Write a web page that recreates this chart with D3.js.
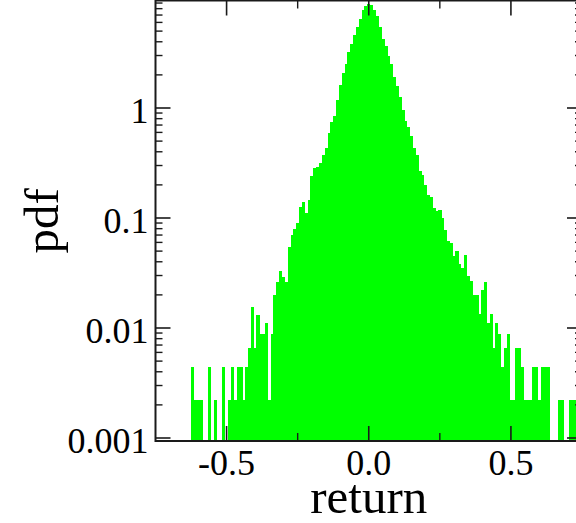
<!DOCTYPE html>
<html>
<head>
<meta charset="utf-8">
<script src="https://cdn.jsdelivr.net/npm/d3@7"></script>
<style>
  body { margin: 0; background: #fff; }
  svg { display: block; }
  text { font-family: "Liberation Serif", "Times New Roman", serif; fill: #000; }
</style>
</head>
<body>
<div id="chart"></div>
<script>
// histogram of returns, log-scaled pdf
// bin centres (width 0.01)
var binWidth = 0.01;
var binCenters = [
  -0.62, -0.61, -0.60, -0.59, -0.58, -0.57, -0.56, -0.55, -0.54, -0.53,
  -0.52, -0.51, -0.50, -0.49, -0.48, -0.47, -0.46, -0.45, -0.44, -0.43,
  -0.42, -0.41, -0.40, -0.39, -0.38, -0.37, -0.36, -0.35, -0.34, -0.33,
  -0.32, -0.31, -0.30, -0.29, -0.28, -0.27, -0.26, -0.25, -0.24, -0.23,
  -0.22, -0.21, -0.20, -0.19, -0.18, -0.17, -0.16, -0.15, -0.14, -0.13,
  -0.12, -0.11, -0.10, -0.09, -0.08, -0.07, -0.06, -0.05, -0.04, -0.03,
  -0.02, -0.01, 0.00, 0.01, 0.02, 0.03, 0.04, 0.05, 0.06, 0.07,
  0.08, 0.09, 0.10, 0.11, 0.12, 0.13, 0.14, 0.15, 0.16, 0.17,
  0.18, 0.19, 0.20, 0.21, 0.22, 0.23, 0.24, 0.25, 0.26, 0.27,
  0.28, 0.29, 0.30, 0.31, 0.32, 0.33, 0.34, 0.35, 0.36, 0.37,
  0.38, 0.39, 0.40, 0.41, 0.42, 0.43, 0.44, 0.45, 0.46, 0.47,
  0.48, 0.49, 0.50, 0.51, 0.52, 0.53, 0.54, 0.55, 0.56, 0.57,
  0.58, 0.59, 0.60, 0.61, 0.62, 0.63, 0.64, 0.65, 0.66, 0.67,
  0.68, 0.69, 0.70, 0.71, 0.72, 0.73
];
// pdf (0 = empty bin)
var pdfValues = [
  0.0044, 0.0022, 0.0022, 0.0022, 0, 0, 0.0044, 0, 0.0022, 0,
  0, 0.0044, 0, 0.0022, 0.0044, 0.0022, 0.0044, 0.0044, 0.0022, 0.0044,
  0.0066, 0.0154, 0.0066, 0.0132, 0.0088, 0.0088, 0.011, 0.0022, 0.0088, 0.020,
  0.0264, 0.033, 0.029, 0.0264, 0.055, 0.070, 0.079, 0.091, 0.125, 0.14,
  0.111, 0.146, 0.241, 0.283, 0.29, 0.318, 0.374, 0.43, 0.593, 0.75,
  0.846, 1.18, 1.62, 2.1, 2.5, 3.2, 3.85, 4.6, 5.5, 6.4,
  7.7, 8.4, 8.8, 8.6, 7.8, 6.9, 5.45, 4.2, 3.65, 3.0,
  2.5, 1.9, 1.6, 1.25, 0.95, 0.76, 0.67, 0.56, 0.43, 0.37,
  0.27, 0.245, 0.2, 0.162, 0.155, 0.123, 0.115, 0.118, 0.099, 0.078,
  0.062, 0.059, 0.045, 0.05, 0.038, 0.035, 0.046, 0.030, 0.027, 0.02,
  0.02, 0.0134, 0.022, 0.026, 0.011, 0.0134, 0.0066, 0.011, 0.0088, 0.0044,
  0.0066, 0.0088, 0.0022, 0.0022, 0.0066, 0.0066, 0.0044, 0.0022, 0.0022, 0.0022,
  0.0044, 0.0044, 0.0022, 0.0044, 0.0044, 0.0044, 0, 0, 0, 0.0022,
  0.0022, 0, 0, 0.0022, 0.0022, 0.0022
];
var xTickLabels = ["-0.5", "0.0", "0.5"];
var xTickValues = [-0.5, 0, 0.5];
var xMinorTicks = [-0.25, 0.25];
var yTickLabels = ["0.001", "0.01", "0.1", "1", "10"];
var yTickValues = [0.001, 0.01, 0.1, 1, 10];

var svgWidth = 576, svgHeight = 523;

// plot box (right edge sits just past the window)
var plotLeft = 155.5, plotRight = 582, plotTop = 0.5, plotBottom = 441;

var svg = d3.select("#chart").append("svg")
    .attr("width", svgWidth)
    .attr("height", svgHeight);

var x = d3.scaleLinear().domain([-0.75, 0.75]).range([plotLeft, plotRight]);
var y = d3.scaleLog().domain([0.001, 10]).range([438, -2]);

var data = binCenters.map(function(c, i) { return {c: c, v: pdfValues[i]}; })
    .filter(function(d) { return d.v > 0; });

// bars
svg.append("g").selectAll("rect")
    .data(data)
    .enter()
    .append("rect")
    .attr("x", d => x(d.c - binWidth / 2))
    .attr("width", d => x(d.c + binWidth / 2) - x(d.c - binWidth / 2) + 0.3)
    .attr("y", d => y(d.v))
    .attr("height", d => plotBottom - y(d.v))
    .attr("fill", "#00ff00")
    .attr("shape-rendering", "crispEdges");

// minor log ticks
var yMinor = [];
[0.001, 0.01, 0.1, 1].forEach(function(p) {
  for (var k = 2; k <= 9; k++) yMinor.push(p * k);
});

var axisColor = "#1a1a1a";
var axes = svg.append("g")
    .attr("stroke", axisColor)
    .attr("fill", "none");

function tick(x1, y1, x2, y2, w) {
  axes.append("line")
      .attr("x1", x1).attr("y1", y1).attr("x2", x2).attr("y2", y2)
      .attr("stroke-width", w);
}

// y ticks, left and right, pointing in
yTickValues.forEach(function(v) {
  var yy = y(v);
  if (yy < plotTop || yy > plotBottom) return;
  tick(plotLeft, yy, plotLeft + 15, yy, 1.6);
  tick(plotRight, yy, plotRight - 15, yy, 1.6);
});
yMinor.forEach(function(v) {
  var yy = y(v);
  if (yy < plotTop || yy > plotBottom) return;
  tick(plotLeft, yy, plotLeft + 7, yy, 1.4);
  tick(plotRight, yy, plotRight - 7, yy, 1.4);
});

// x ticks, bottom and top, pointing in
xTickValues.forEach(function(v) {
  tick(x(v), plotBottom, x(v), plotBottom - 15, 1.6);
  tick(x(v), plotTop, x(v), plotTop + 15, 1.6);
});
xMinorTicks.forEach(function(v) {
  tick(x(v), plotBottom, x(v), plotBottom - 8, 1.4);
  tick(x(v), plotTop, x(v), plotTop + 8, 1.4);
});

// frame
axes.append("rect")
    .attr("x", plotLeft).attr("y", plotTop)
    .attr("width", plotRight - plotLeft).attr("height", plotBottom - plotTop)
    .attr("stroke-width", 2);

// tick labels
svg.append("g").selectAll("text")
    .data(yTickValues.filter(v => y(v) >= plotTop && y(v) <= plotBottom))
    .enter()
    .append("text")
    .attr("x", plotLeft - 7)
    .attr("y", v => y(v) + 15)
    .attr("text-anchor", "end")
    .style("font-size", "36px")
    .text(v => yTickLabels[yTickValues.indexOf(v)]);

svg.append("g").selectAll("text")
    .data(xTickValues)
    .enter()
    .append("text")
    .attr("x", v => x(v))
    .attr("y", 475)
    .attr("text-anchor", "middle")
    .style("font-size", "36px")
    .text((v, i) => xTickLabels[i]);

// axis titles
svg.append("text")
    .attr("x", (plotLeft + plotRight) / 2)
    .attr("y", 513)
    .attr("text-anchor", "middle")
    .style("font-size", "49px")
    .text("return");

svg.append("text")
    .attr("transform", `translate(58, ${(plotTop + plotBottom) / 2}) rotate(-90)`)
    .attr("text-anchor", "middle")
    .style("font-size", "49px")
    .text("pdf");
</script>
</body>
</html>
